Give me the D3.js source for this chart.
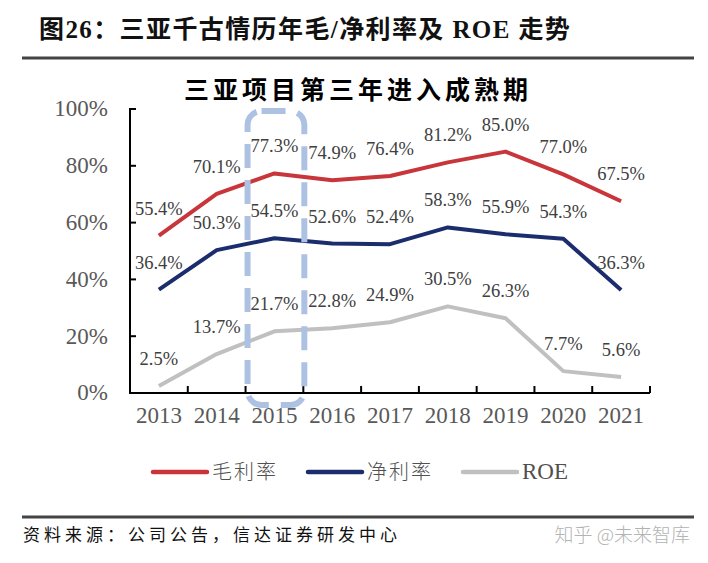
<!DOCTYPE html>
<html><head><meta charset="utf-8">
<script src="https://cdn.jsdelivr.net/npm/d3@7"></script>
<style>body{margin:0;background:#fff}svg{display:block}</style>
</head><body>
<svg id="c" width="708" height="563"></svg>
<script>
const years = ["2013","2014","2015","2016","2017","2018","2019","2020","2021"];
const grossMargin = [55.4, 70.1, 77.3, 74.9, 76.4, 81.2, 85.0, 77.0, 67.5];
const netMargin = [36.4, 50.3, 54.5, 52.6, 52.4, 58.3, 55.9, 54.3, 36.3];
const roe = [2.5, 13.7, 21.7, 22.8, 24.9, 30.5, 26.3, 7.7, 5.6];
const yTicks = [0, 20, 40, 60, 80, 100];
const seriesNames = ["毛利率", "净利率", "ROE"];
const seriesColors = ["#c8363b", "#1c2d6e", "#c0c0c0"];
const highlightYear = "2015";

const svg = d3.select("#c");
const serif = "'Liberation Serif','Times New Roman',serif";
const cjk = "'Liberation Serif','Noto Sans CJK SC',sans-serif";

// header
svg.append("text").attr("x", 39).attr("y", 38)
  .attr("font-family", cjk).attr("font-weight", "bold").attr("font-size", 25)
  .attr("letter-spacing", 1.4).attr("fill", "#111")
  .text("图26：三亚千古情历年毛/净利率及 ROE 走势");
svg.append("line").attr("x1", 22).attr("x2", 694).attr("y1", 58).attr("y2", 58)
  .attr("stroke", "#444").attr("stroke-width", 3);
svg.append("text").attr("x", 358).attr("y", 99).attr("text-anchor", "middle")
  .attr("font-family", cjk).attr("font-weight", "bold").attr("font-size", 25)
  .attr("letter-spacing", 4).attr("fill", "#000")
  .text("三亚项目第三年进入成熟期");

// scales
const x = d3.scaleBand().domain(years).range([130, 650]).padding(0);
const y = d3.scaleLinear().domain([0, 100]).range([393, 109]);
const cx = d => x(d) + x.bandwidth() / 2;

// y axis
const yAxis = d3.axisLeft(y).tickValues(yTicks).tickSize(-6).tickPadding(28)
  .offset(0).tickFormat(d => d + "%");
const gy = svg.append("g").attr("transform", "translate(130,0)").call(yAxis);
gy.select(".domain").attr("stroke", "#000").attr("stroke-width", 2);
gy.selectAll(".tick line").attr("stroke", "#000").attr("stroke-width", 2);
gy.selectAll(".tick text").attr("font-family", serif).attr("font-size", 23)
  .attr("fill", "#595959").attr("x", -22);

// x axis
const xAxis = d3.axisBottom(x).tickSize(0).tickPadding(20).offset(0);
const gx = svg.append("g").attr("transform", "translate(0,393)").call(xAxis);
gx.select(".domain").attr("stroke", "#000").attr("stroke-width", 2);
gx.selectAll(".tick text").attr("font-family", serif).attr("font-size", 23)
  .attr("fill", "#595959").attr("dy", "0.45em");
const boundaries = years.map(d => x(d)).concat([x.range()[1]]).slice(1);
svg.append("g").selectAll("line").data(boundaries).join("line")
  .attr("x1", d => d).attr("x2", d => d).attr("y1", 393).attr("y2", 386)
  .attr("stroke", "#000").attr("stroke-width", 2);

// lines
const allSeries = [grossMargin, netMargin, roe];
const line = d3.line().x((d, i) => cx(years[i])).y(d => y(d));
allSeries.forEach((s, k) => {
  svg.append("path").datum(s).attr("d", line).attr("fill", "none")
    .attr("stroke", seriesColors[k]).attr("stroke-width", 4)
    .attr("stroke-linejoin", "round");
});

// highlight dashed box
svg.append("rect")
  .attr("x", x(highlightYear) + 2).attr("width", x.bandwidth() - 1)
  .attr("y", y(100) + 2).attr("height", 405 - y(100) - 2)
  .attr("rx", 14).attr("ry", 14)
  .attr("fill", "none").attr("stroke", "#adc2e3").attr("stroke-width", 6)
  .attr("stroke-dasharray", "24 12");

// data labels
allSeries.forEach((s, k) => {
  svg.append("g").selectAll("text").data(s).join("text")
    .attr("x", (d, i) => cx(years[i])).attr("y", d => y(d) - 21)
    .attr("text-anchor", "middle").attr("font-family", serif).attr("font-size", 18.5)
    .attr("fill", "#404040").text(d => d.toFixed(1) + "%");
});

// legend
const legX = [153, 308, 463];
seriesNames.forEach((n, k) => {
  svg.append("line").attr("x1", legX[k]).attr("x2", legX[k] + 54)
    .attr("y1", 472).attr("y2", 472).attr("stroke", seriesColors[k])
    .attr("stroke-width", 4.5).attr("stroke-linecap", "round");
  svg.append("text").attr("x", legX[k] + 59).attr("y", 479)
    .attr("font-family", k === 2 ? serif : "'Noto Sans CJK SC',sans-serif")
    .attr("font-size", k === 2 ? 23 : 20).attr("font-weight", k === 2 ? "normal" : 300)
    .attr("letter-spacing", k === 2 ? 0 : 2)
    .attr("fill", "#505050").text(n);
});

// footer
svg.append("line").attr("x1", 22).attr("x2", 694).attr("y1", 517).attr("y2", 517)
  .attr("stroke", "#444").attr("stroke-width", 3);
svg.append("text").attr("x", 23).attr("y", 541)
  .attr("font-family", "'Noto Sans CJK SC',sans-serif").attr("font-size", 17)
  .attr("letter-spacing", 4).attr("fill", "#111")
  .text("资料来源：公司公告，信达证券研发中心");
svg.append("text").attr("x", 690).attr("y", 542).attr("text-anchor", "end")
  .attr("font-family", "'Noto Sans CJK SC',sans-serif").attr("font-size", 19)
  .attr("font-weight", 300).attr("fill", "#b3b3b3")
  .text("知乎 @未来智库");
</script>
</body></html>
